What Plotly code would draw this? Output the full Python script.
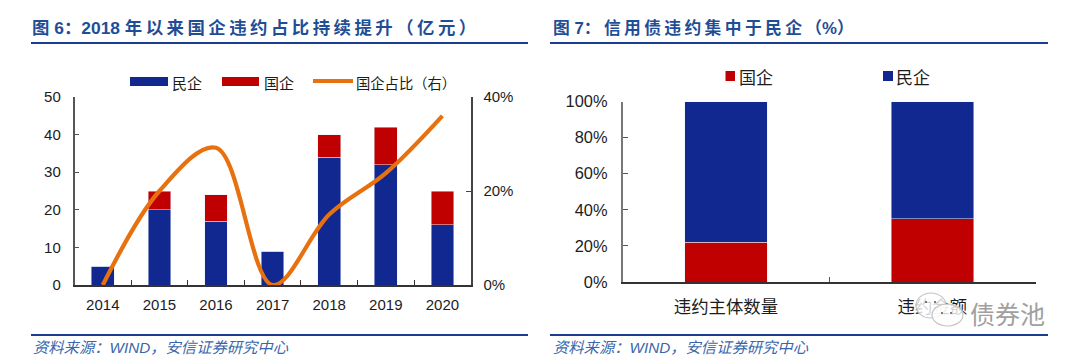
import re
import plotly.graph_objects as go

W, H = 1080, 361

years = ["2014", "2015", "2016", "2017", "2018", "2019", "2020"]
private_default = [5, 20, 17, 9, 34, 32, 16]
state_default = [0, 5, 7, 0, 6, 10, 9]
state_share = [0, 20, 29.2, 0, 15, 23.8, 36]

cats7 = ["违约主体数量", "违约金额"]
state_pct = [22, 35]
private_pct = [78, 65]

title6 = "图 6：2018 年以来国企违约占比持续提升（亿元）"
title7 = "图 7：信用债违约集中于民企（%）"
source = "资料来源：WIND，安信证券研究中心"
watermark = "债券池"

BLUE = "#10288f"
RED = "#c00000"
ORANGE = "#e8710f"
RULE = "#1a3d92"
TITLE = "#1f4e96"
SRC = "#3a67ab"
INK = "#1c1c1c"
SANS = "Liberation Sans, Noto Sans CJK SC, sans-serif"
CJK = "Noto Sans CJK SC, sans-serif"


def px(x):
    return x / W


def py(y):
    return 1 - y / H


def spaced(s):
    return re.sub(r"(?<=[\u3000-\u9fff\uff00-\uffef])(?=[\u3000-\u9fff\uff00-\uffef])", "\u2009", s)


fig = go.Figure()
fig.add_bar(x=years, y=private_default, name="民企", marker_color=BLUE, xaxis="x", yaxis="y")
fig.add_bar(x=years, y=state_default, name="国企", marker_color=RED, xaxis="x", yaxis="y")
fig.add_scatter(x=years, y=state_share, mode="lines", name="国企占比（右）",
                line=dict(color=ORANGE, width=4.2, shape="spline", smoothing=1),
                xaxis="x", yaxis="y2")
fig.add_bar(x=cats7, y=state_pct, name="国企", marker_color=RED, xaxis="x3", yaxis="y3")
fig.add_bar(x=cats7, y=private_pct, name="民企", marker_color=BLUE, xaxis="x3", yaxis="y3")

annotations = []


def note(text, x, y, size, color=INK, family=CJK, anchor="left"):
    annotations.append(dict(text=text, x=px(x), y=py(y), xref="paper", yref="paper", xanchor=anchor,
                            yanchor="middle", showarrow=False, font=dict(size=size, color=color, family=family),
                            borderpad=0, borderwidth=0))


note("<b>" + spaced(title6) + "</b>", 32, 28, 17.4, TITLE, SANS)
note("<b>" + spaced(title7) + "</b>", 553, 28, 16.8, TITLE, SANS)
note("<i>" + source + "</i>", 33, 347, 15.3, SRC, SANS)
note("<i>" + source + "</i>", 553, 347, 15.3, SRC, SANS)
note("民企", 172, 82, 15)
note("国企", 264, 82, 15)
note("国企占比（右）", 356, 82, 14.3)
note("国企", 739, 76, 17)
note("民企", 896, 76, 17)
note(watermark, 970, 313, 25, "#a0a0a0")

shapes = []


def rule(x0, x1, y, w, color=RULE):
    shapes.append(dict(type="line", xref="paper", yref="paper", x0=px(x0), x1=px(x1), y0=py(y), y1=py(y),
                       line=dict(color=color, width=w)))


def box(x0, y0, x1, y1, color):
    shapes.append(dict(type="rect", xref="paper", yref="paper", x0=px(x0), x1=px(x1), y0=py(y0), y1=py(y1),
                       fillcolor=color, line=dict(width=0)))


def bubble(x0, y0, x1, y1):
    shapes.append(dict(type="circle", xref="paper", yref="paper", x0=px(x0), x1=px(x1), y0=py(y0), y1=py(y1),
                       fillcolor="rgba(255,255,255,0.8)", line=dict(color="#c4c4c4", width=1.2), layer="above"))


def dot(x, y, color="#555555"):
    shapes.append(dict(type="circle", xref="paper", yref="paper", x0=px(x - 1), x1=px(x + 1), y0=py(y - 1),
                       y1=py(y + 1), fillcolor=color, line=dict(width=0), layer="above"))


rule(31, 528, 43, 2)
rule(550, 1048, 43, 2)
rule(31, 528, 335, 2)
rule(550, 1048, 335, 2)
box(130, 77, 168, 86, BLUE)
box(222, 77, 259, 86, RED)
rule(313, 353, 81, 4.2, ORANGE)
box(725.5, 71, 735, 81, RED)
box(883, 71, 893, 81, BLUE)
bubble(916, 293, 946, 318)
bubble(932, 304, 963, 326)
dot(926, 302)
dot(935, 302)
dot(942, 313)
dot(951, 313)

axis_font = dict(family=SANS, size=15, color=INK)
fig.update_layout(
    width=W, height=H, margin=dict(l=0, r=0, t=0, b=0, autoexpand=False), paper_bgcolor="white", plot_bgcolor="white",
    barmode="stack", bargap=0.6, annotations=annotations, shapes=shapes, showlegend=False,
    xaxis=dict(domain=[px(74.5), px(470.7)], anchor="y", type="category", tickson="boundaries", ticks="inside",
               ticklen=5, tickcolor="#333", showline=True, linecolor="#333", linewidth=1.5, showgrid=False,
               tickfont=axis_font, ticklabelstandoff=5),
    yaxis=dict(domain=[py(285), py(97)], anchor="x", range=[0, 50], dtick=10, ticks="inside", ticklen=5,
               tickcolor="#555", showline=True, linecolor="#555", linewidth=1.5, showgrid=False, zeroline=False,
               tickfont=axis_font, ticklabelstandoff=9),
    yaxis2=dict(domain=[py(285), py(97)], anchor="x", overlaying="y", side="right", range=[0, 40],
                dtick=20, ticksuffix="%", ticks="inside", ticklen=5, tickcolor="#444", showline=True,
                linecolor="#444", linewidth=1.5, showgrid=False, zeroline=False, tickfont=axis_font,
                ticklabelstandoff=8),
    xaxis3=dict(domain=[px(622.8), px(1035.5)], anchor="y3", type="category", tickson="boundaries", ticks="inside",
                ticklen=5, tickcolor="#555", showline=True, linecolor="#333", linewidth=1.5, showgrid=False,
                tickfont=dict(family=SANS, size=17.4, color=INK), ticklabelstandoff=8),
    yaxis3=dict(domain=[py(282), py(101.5)], anchor="x3", range=[0, 100], dtick=20, ticksuffix="%", ticks="inside",
                ticklen=5, tickcolor="#555", showline=True, linecolor="#777", linewidth=2, showgrid=False,
                zeroline=False, tickfont=dict(family=SANS, size=16.4, color=INK), ticklabelstandoff=10),
)

fig.write_html("out.html", config=dict(displayModeBar=False, responsive=False),
               post_script="document.body.style.margin='0';document.body.style.overflow='hidden';")
